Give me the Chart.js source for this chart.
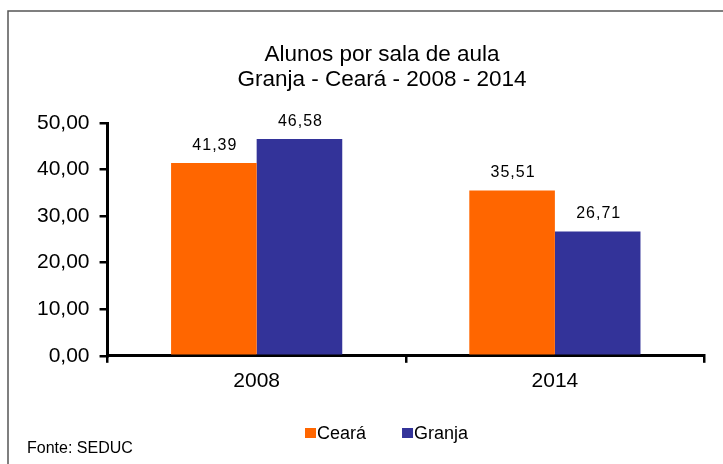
<!DOCTYPE html>
<html>
<head>
<meta charset="utf-8">
<script src="https://cdn.jsdelivr.net/npm/chart.js@4.4.0/dist/chart.umd.min.js"></script>
<style>
html, body { margin: 0; padding: 0; background: #fff; }
</style>
</head>
<body>
<canvas id="grafico" width="723" height="464"></canvas>
<script>
// dados
const anos = ['2008', '2014'];
const ceara = [41.39, 35.51];
const granja = [46.58, 26.71];
const ticksY = [0, 10, 20, 30, 40, 50];
const titulo = ['Alunos por sala de aula', 'Granja - Ceará - 2008 - 2014'];
const fonte = 'Fonte: SEDUC';

const FAMILIA = '"Liberation Sans", Arial, sans-serif';

function virgula(v) {
    return Number(v).toFixed(2).replace('.', ',');
}

// moldura, título, legenda e fonte
const moldura = {
    id: 'moldura',
    beforeDraw(chart) {
        const ctx = chart.ctx;
        ctx.save();
        ctx.fillStyle = '#fff';
        ctx.fillRect(0, 0, chart.width, chart.height);
        ctx.strokeStyle = '#555';
        ctx.lineWidth = 1.5;
        ctx.strokeRect(8, 11, 760, 500);
        ctx.restore();
    },
    afterDraw(chart) {
        const ctx = chart.ctx;
        ctx.save();
        ctx.fillStyle = '#000';

        // título
        ctx.font = '22.5px ' + FAMILIA;
        ctx.textAlign = 'center';
        ctx.textBaseline = 'middle';
        titulo.forEach(function(linha, i) {
            ctx.fillText(linha, 382, 55 + i * 25);
        });

        // legenda
        ctx.font = '18px ' + FAMILIA;
        ctx.textAlign = 'left';
        const caixa = 11, espaco = 37;
        const ds = chart.data.datasets;
        let total = 0;
        ds.forEach(function(d, i) {
            total += caixa + ctx.measureText(d.label).width + (i < ds.length - 1 ? espaco : 0);
        });
        let x = Math.round(386 - total / 2);
        ds.forEach(function(d) {
            ctx.fillStyle = d.backgroundColor;
            ctx.fillRect(x, 428, caixa, 10);
            ctx.fillStyle = '#000';
            ctx.fillText(d.label, x + caixa + 1, 434);
            x += caixa + ctx.measureText(d.label).width + espaco;
        });

        // fonte
        ctx.font = '16px ' + FAMILIA;
        ctx.fillText(fonte, 27, 449);
        ctx.restore();
    }
};

// valores em cima das barras
const rotulos = {
    id: 'rotulos',
    afterDatasetsDraw(chart) {
        const ctx = chart.ctx;
        ctx.save();
        ctx.font = '16px ' + FAMILIA;
        ctx.letterSpacing = '1px';
        ctx.fillStyle = '#000';
        ctx.textAlign = 'center';
        ctx.textBaseline = 'alphabetic';
        chart.data.datasets.forEach(function(ds, i) {
            chart.getDatasetMeta(i).data.forEach(function(bar, j) {
                ctx.fillText(virgula(ds.data[j]), bar.x + 1, bar.y - 13);
            });
        });
        ctx.restore();
    }
};

var ctx = document.getElementById('grafico').getContext('2d');
var grafico = new Chart(ctx, {
    type: 'bar',
    data: {
        labels: anos,
        datasets: [{
            label: 'Ceará',
            backgroundColor: '#FF6600',
            borderWidth: 0,
            data: ceara
        }, {
            label: 'Granja',
            backgroundColor: '#333399',
            borderWidth: 0,
            data: granja
        }]
    },
    options: {
        responsive: false,
        animation: false,
        devicePixelRatio: 1,
        categoryPercentage: 0.574,
        barPercentage: 1.0,
        layout: {
            padding: { left: 27, right: 19, top: 123, bottom: 64 }
        },
        scales: {
            x: {
                grid: {
                    drawOnChartArea: false,
                    drawTicks: true,
                    tickLength: 7,
                    color: '#000',
                    lineWidth: 2.5
                },
                border: { display: true, color: '#000', width: 3 },
                ticks: {
                    color: '#000',
                    padding: 6,
                    font: { family: FAMILIA, size: 21 }
                }
            },
            y: {
                min: 0,
                max: 50,
                afterBuildTicks: function(axis) {
                    axis.ticks = ticksY.map(function(v) { return { value: v }; });
                },
                grid: {
                    drawOnChartArea: false,
                    drawTicks: true,
                    tickLength: 8,
                    color: '#000',
                    lineWidth: 2.5
                },
                border: { display: true, color: '#000', width: 3 },
                ticks: {
                    color: '#000',
                    padding: 10,
                    font: { family: FAMILIA, size: 21 },
                    callback: function(v) { return virgula(v); }
                }
            }
        },
        plugins: {
            title: { display: false },
            legend: { display: false },
            tooltip: { enabled: false }
        }
    },
    plugins: [moldura, rotulos]
});
</script>
</body>
</html>
